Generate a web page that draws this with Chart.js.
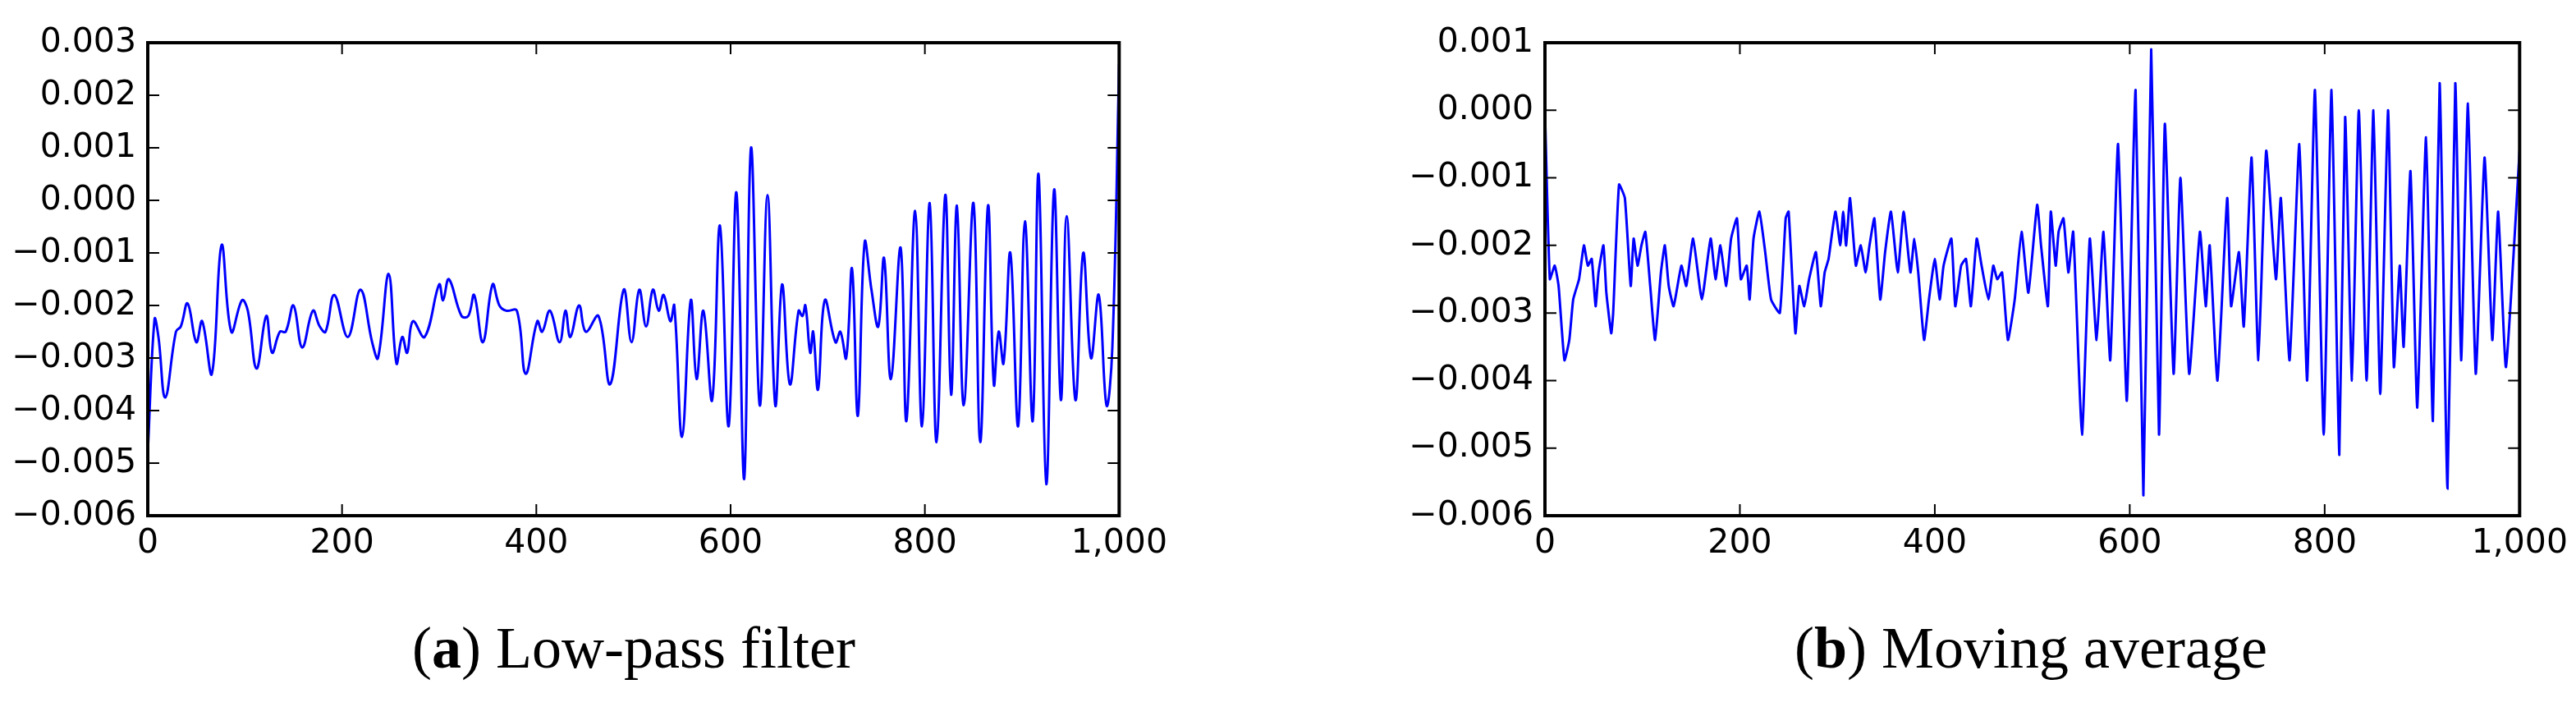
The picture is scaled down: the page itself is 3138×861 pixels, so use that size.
<!DOCTYPE html>
<html>
<head>
<meta charset="utf-8">
<script src="https://cdn.jsdelivr.net/npm/chart.js@4/dist/chart.umd.min.js"></script>
<style>
  body { margin: 0; background: #fff; width: 3138px; height: 861px; position: relative; overflow: hidden; }
  .wrap { position: absolute; top: 0; }
  .cap { position: absolute; font-family: "Liberation Serif", "DejaVu Serif", serif; font-size: 72px; white-space: nowrap; transform: translateX(-50%); top: 748px; }
</style>
</head>
<body>
<div class="wrap" style="left:0px;width:1432px;height:698px"><canvas id="lowPass"></canvas></div>
<div class="wrap" style="left:1702px;width:1436px;height:698px"><canvas id="movAvg"></canvas></div>
<div class="cap" style="left:772px">(<b>a</b>) Low-pass filter</div>
<div class="cap" style="left:2474px">(<b>b</b>) Moving average</div>
<script>
// low-pass filter (x, value)
const lowX = [0,7,11,18,29,34,41,50,56,66,76,86,97,103,112,122,128,136,142,150,159,170,177,183,192,206,219,231,237,248,256,262,267,273,285,300,304,310,323,330,336,345,355,362,369,380,389,401,406,414,424,430,435,444,451,464,476,490,498,506,513,520,526,531,538,542,550,559,565,572,581,589,598,606,614,621,630,638,646,653,661,670,674,677,682,685,690,697,708,713,719,725,731,738,745,752,758,765,775,781,790,797,805,812,821,827,833,840,850,857,865,871,876,881,888,896,903,911,917,925,933,940,946,955,963,971,979,987,993,1000];
const lowY = [-0.0048,-0.00226,-0.0026,-0.00375,-0.0025,-0.0024,-0.00196,-0.0027,-0.0023,-0.0033,-0.00085,-0.0025,-0.0019,-0.0021,-0.0032,-0.0022,-0.0029,-0.0025,-0.0025,-0.002,-0.0028,-0.0021,-0.0024,-0.0025,-0.0018,-0.0026,-0.0017,-0.0027,-0.003,-0.0014,-0.0031,-0.0026,-0.0029,-0.0023,-0.0026,-0.0016,-0.0019,-0.0015,-0.0022,-0.0022,-0.0018,-0.0027,-0.0016,-0.002,-0.0021,-0.0021,-0.0033,-0.0023,-0.0025,-0.0021,-0.0027,-0.0021,-0.0026,-0.002,-0.0025,-0.0022,-0.0035,-0.0017,-0.0027,-0.0017,-0.0024,-0.0017,-0.0021,-0.0018,-0.0023,-0.002,-0.0045,-0.0019,-0.0034,-0.0021,-0.0038,-0.00048,-0.0043,0.00015,-0.0053,0.001,-0.0039,0.0001,-0.0039,-0.0016,-0.0035,-0.0021,-0.0022,-0.002,-0.0029,-0.0025,-0.0036,-0.0019,-0.0027,-0.0025,-0.003,-0.0013,-0.0041,-0.0008,-0.0017,-0.0024,-0.0011,-0.0034,-0.0009,-0.0042,-0.0002,-0.0043,-0.00005,-0.0046,0.0001,-0.0037,-0.0001,-0.0039,-0.00005,-0.0046,-0.0001,-0.0035,-0.0025,-0.0031,-0.001,-0.0043,-0.0004,-0.0042,0.0005,-0.0054,0.0002,-0.0038,-0.0003,-0.0038,-0.001,-0.003,-0.0018,-0.0039,-0.0028,0.0026];

// moving average (x, value)
const avgX = [0,5,10,14,20,25,29,35,40,44,48,52,55,60,63,68,70,76,82,88,91,95,99,103,108,113,119,123,127,132,140,145,152,161,170,175,180,186,191,197,201,207,210,214,220,226,232,241,247,250,257,261,266,271,278,283,287,291,298,303,306,309,313,319,324,329,333,338,344,349,355,362,368,375,379,383,389,394,400,405,409,417,421,427,432,437,443,448,455,460,464,469,475,482,489,496,505,509,516,519,524,527,532,537,542,551,559,566,573,580,588,597,606,614,622,630,636,645,652,661,672,678,682,690,700,704,712,717,725,732,740,750,755,764,774,782,790,799,807,815,821,828,835,843,850,857,865,871,877,881,888,895,904,911,918,926,934,940,947,955,964,972,978,986,1000];
const avgY = [0,-0.0025,-0.0023,-0.0026,-0.0037,-0.0034,-0.0028,-0.0025,-0.002,-0.0023,-0.0022,-0.0029,-0.0024,-0.002,-0.0027,-0.0033,-0.003,-0.0011,-0.0013,-0.0026,-0.0019,-0.0023,-0.002,-0.0018,-0.0026,-0.0034,-0.0024,-0.002,-0.0026,-0.0029,-0.0023,-0.0026,-0.0019,-0.0028,-0.0019,-0.0025,-0.002,-0.0026,-0.0019,-0.0016,-0.0025,-0.0023,-0.0028,-0.0019,-0.0015,-0.0021,-0.0028,-0.003,-0.0016,-0.0015,-0.0033,-0.0026,-0.0029,-0.0025,-0.0021,-0.0029,-0.0024,-0.0022,-0.0015,-0.002,-0.0015,-0.002,-0.0013,-0.0023,-0.002,-0.0024,-0.002,-0.0016,-0.0028,-0.0021,-0.0015,-0.0024,-0.0015,-0.0024,-0.0019,-0.0024,-0.0034,-0.0028,-0.0022,-0.0028,-0.0023,-0.0019,-0.0029,-0.0023,-0.0022,-0.0029,-0.0019,-0.0023,-0.0028,-0.0023,-0.0025,-0.0024,-0.0034,-0.0028,-0.0018,-0.0027,-0.0014,-0.002,-0.0029,-0.0015,-0.0023,-0.0018,-0.0016,-0.0024,-0.0018,-0.0048,-0.0019,-0.0034,-0.0018,-0.0037,-0.0005,-0.0043,0.0003,-0.0057,0.0009,-0.0048,-0.0002,-0.0039,-0.001,-0.0039,-0.0018,-0.0029,-0.002,-0.004,-0.0013,-0.0029,-0.0021,-0.0032,-0.0007,-0.0037,-0.0006,-0.0025,-0.0013,-0.0037,-0.0005,-0.004,0.0003,-0.0048,0.0003,-0.0051,-0.0001,-0.004,0,-0.004,0,-0.0042,0,-0.0038,-0.0023,-0.0035,-0.0009,-0.0044,-0.0004,-0.0046,0.0004,-0.0056,0.0004,-0.0037,0.0001,-0.0039,-0.0007,-0.0034,-0.0015,-0.0038,-0.0006];

const xTicks = [0, 200, 400, 600, 800, 1000];

// inward ticks on all four sides, like matplotlib
const innerTicks = {
  id: "innerTicks",
  afterDraw(chart) {
    const c = chart.ctx, a = chart.chartArea, xs = chart.scales.x, ys = chart.scales.y;
    c.save();
    c.strokeStyle = "#000";
    c.lineWidth = 2;
    c.beginPath();
    xs.ticks.forEach(t => {
      const px = xs.getPixelForValue(t.value);
      c.moveTo(px, a.bottom); c.lineTo(px, a.bottom - 14);
      c.moveTo(px, a.top); c.lineTo(px, a.top + 14);
    });
    ys.ticks.forEach(t => {
      const py = ys.getPixelForValue(t.value);
      c.moveTo(a.left, py); c.lineTo(a.left + 14, py);
      c.moveTo(a.right, py); c.lineTo(a.right - 14, py);
    });
    c.stroke();
    c.lineWidth = 4;
    c.strokeRect(a.left, a.top, a.right - a.left, a.bottom - a.top);
    c.restore();
  }
};

function makeChart(id, xs, ys, yMin, yMax, tension, yWidth) {
  const pts = xs.map((x, i) => ({ x: x, y: ys[i] }));
  return new Chart(document.getElementById(id), {
    type: "line",
    data: { datasets: [{ data: pts, borderColor: "#0000ff", borderWidth: 3, pointRadius: 0, tension: tension, fill: false }] },
    options: {
      responsive: true,
      maintainAspectRatio: false,
      animation: false,
      layout: { padding: { top: 52, right: 60, left: 0, bottom: 0 } },
      plugins: { legend: { display: false }, tooltip: { enabled: false } },
      scales: {
        x: {
          type: "linear", min: 0, max: 1000,
          afterBuildTicks: s => { s.ticks = xTicks.map(v => ({ value: v })); },
          afterFit: s => { s.height = 70; },
          grid: { display: false, drawTicks: false },
          border: { display: false },
          ticks: { color: "#000", padding: 10, maxRotation: 0, font: { family: "DejaVu Sans", size: 41 } }
        },
        y: {
          min: yMin, max: yMax,
          afterFit: s => { s.width = yWidth; },
          grid: { display: false, drawTicks: false },
          border: { display: false },
          ticks: {
            stepSize: 0.001, color: "#000", padding: 14,
            font: { family: "DejaVu Sans", size: 41 },
            callback: v => (v < -1e-9 ? "\u2212" : "") + Math.abs(v).toFixed(3)
          }
        }
      }
    },
    plugins: [innerTicks]
  });
}

makeChart("lowPass", lowX, lowY, -0.006, 0.003, 0.4, 180);
makeChart("movAvg", avgX, avgY, -0.006, 0.001, 0.15, 180);
</script>
</body>
</html>
